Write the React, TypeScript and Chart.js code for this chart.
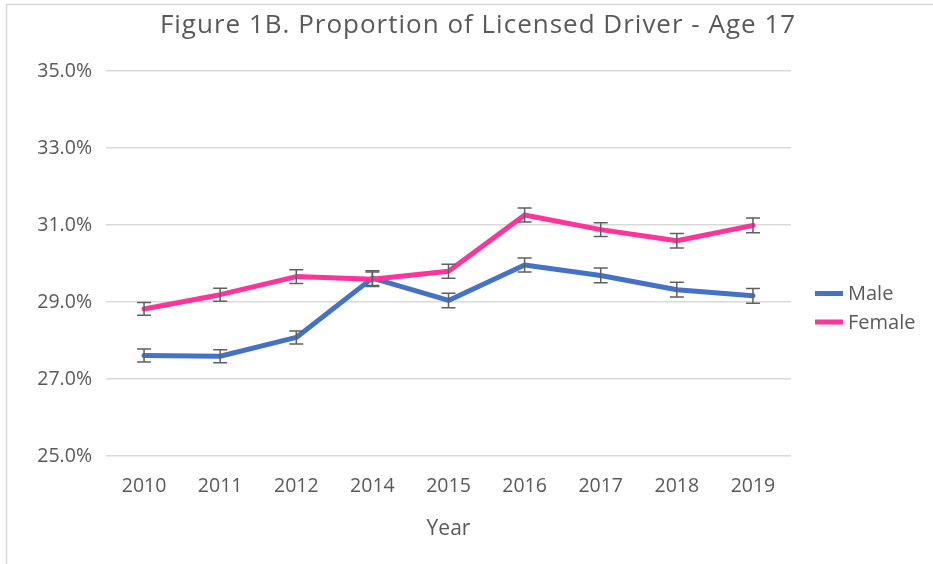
import React, { useEffect, useRef } from "react";
import { Chart, registerables } from "chart.js";

Chart.register(...registerables);

const TITLE = "Figure 1B. Proportion of Licensed Driver - Age 17";
const X_TITLE = "Year";
const years = ["2010", "2011", "2012", "2014", "2015", "2016", "2017", "2018", "2019"];
const maleValues = [27.61, 27.59, 28.08, 29.62, 29.04, 29.96, 29.69, 29.32, 29.16];
const femaleValues = [28.82, 29.19, 29.66, 29.59, 29.8, 31.26, 30.88, 30.59, 30.99];
const maleErrors = [0.17, 0.17, 0.17, 0.19, 0.19, 0.18, 0.19, 0.19, 0.19];
const femaleErrors = [0.165, 0.17, 0.18, 0.19, 0.18, 0.18, 0.18, 0.19, 0.19];
const yTicks = [25, 27, 29, 31, 33, 35];
const seriesNames = ["Male", "Female"];
const seriesColors = ["#4472C4", "#FF3399"];

const FONT = "'Open Sans', 'DejaVu Sans', sans-serif";
const TEXT = "#595959";

const frame = {
  id: "frame",
  beforeDraw(chart: any) {
    const { ctx, width, height } = chart;
    ctx.save();
    ctx.fillStyle = "#ffffff";
    ctx.fillRect(0, 0, width, height);
    ctx.strokeStyle = "#D9D9D9";
    ctx.lineWidth = 1.5;
    ctx.beginPath();
    ctx.moveTo(6, 4.5);
    ctx.lineTo(width, 4.5);
    ctx.moveTo(6.5, 4);
    ctx.lineTo(6.5, height);
    ctx.stroke();
    ctx.restore();
  },
};

const errorBars = {
  id: "errorBars",
  afterDatasetsDraw(chart: any) {
    const { ctx } = chart;
    const yScale = chart.scales.y;
    const errs = [maleErrors, femaleErrors];
    ctx.save();
    ctx.strokeStyle = "#606060";
    ctx.lineWidth = 1.5;
    chart.data.datasets.forEach((ds: any, i: number) => {
      const meta = chart.getDatasetMeta(i);
      meta.data.forEach((pt: any, j: number) => {
        const v = ds.data[j];
        const e = errs[i][j];
        const yTop = yScale.getPixelForValue(v + e);
        const yBot = yScale.getPixelForValue(v - e);
        const x = pt.x;
        ctx.beginPath();
        ctx.moveTo(x, yTop);
        ctx.lineTo(x, yBot);
        ctx.moveTo(x - 7, yTop);
        ctx.lineTo(x + 7, yTop);
        ctx.moveTo(x - 7, yBot);
        ctx.lineTo(x + 7, yBot);
        ctx.stroke();
      });
    });
    ctx.restore();
  },
};

const titleAndLegend = {
  id: "titleAndLegend",
  afterDraw(chart: any) {
    const { ctx } = chart;
    ctx.save();
    ctx.fillStyle = TEXT;
    ctx.textBaseline = "alphabetic";
    ctx.textAlign = "center";
    ctx.font = `26px ${FONT}`;
    (ctx as any).letterSpacing = "1px";
    ctx.fillText(TITLE, 478, 33);
    (ctx as any).letterSpacing = "0px";

    ctx.textAlign = "left";
    ctx.font = `20px ${FONT}`;
    chart.data.datasets.forEach((ds: any, i: number) => {
      const yMid = 293.5 + i * 28.5;
      ctx.strokeStyle = ds.borderColor;
      ctx.lineWidth = 5;
      ctx.beginPath();
      ctx.moveTo(815, yMid);
      ctx.lineTo(843, yMid);
      ctx.stroke();
      ctx.fillStyle = TEXT;
      ctx.fillText(ds.label, 848, yMid + 6.5);
    });
    ctx.restore();
  },
};

export default function App() {
  const ref = useRef<HTMLCanvasElement | null>(null);

  useEffect(() => {
    if (!ref.current) return;
    const chart = new Chart(ref.current, {
      type: "line",
      data: {
        labels: years,
        datasets: [
          {
            label: seriesNames[0],
            data: maleValues,
            borderColor: seriesColors[0],
            backgroundColor: seriesColors[0],
            borderWidth: 5,
            pointRadius: 0,
            tension: 0,
            borderJoinStyle: "round",
            borderCapStyle: "round",
            order: 1,
          },
          {
            label: seriesNames[1],
            data: femaleValues,
            borderColor: seriesColors[1],
            backgroundColor: seriesColors[1],
            borderWidth: 5,
            pointRadius: 0,
            tension: 0,
            borderJoinStyle: "round",
            borderCapStyle: "round",
            order: 0,
          },
        ],
      },
      options: {
        animation: false,
        responsive: false,
        devicePixelRatio: 1,
        layout: { padding: { top: 71, left: 6, right: 142, bottom: 0 } },
        plugins: {
          legend: { display: false },
          title: { display: false },
          tooltip: { enabled: false },
        },
        scales: {
          x: {
            type: "category",
            offset: true,
            grid: { display: false, drawTicks: false },
            border: { display: false },
            ticks: {
              color: TEXT,
              font: { family: FONT, size: 19.5 },
              padding: 19,
              maxRotation: 0,
              autoSkip: false,
            },
            title: {
              display: true,
              text: X_TITLE,
              color: TEXT,
              font: { family: FONT, size: 21 },
              padding: { top: 0, bottom: 22 },
            },
            afterFit: (s: any) => {
              s.height = 108;
            },
          },
          y: {
            min: 25,
            max: 35,
            grid: { color: "#D9D9D9", lineWidth: 1.5, drawTicks: false },
            border: { display: false },
            afterBuildTicks: (s: any) => {
              s.ticks = yTicks.map((v) => ({ value: v }));
            },
            ticks: {
              color: TEXT,
              font: { family: FONT, size: 19.5 },
              padding: 14,
              callback: (v: any) => Number(v).toFixed(1) + "%",
            },
            afterFit: (s: any) => {
              s.width = 100;
            },
          },
        },
      },
      plugins: [frame, errorBars, titleAndLegend],
    });
    return () => chart.destroy();
  }, []);

  return (
    <div style={{ position: "fixed", left: 0, top: 0, width: 933, height: 564 }}>
      <canvas ref={ref} width={933} height={564} style={{ display: "block" }} />
    </div>
  );
}
